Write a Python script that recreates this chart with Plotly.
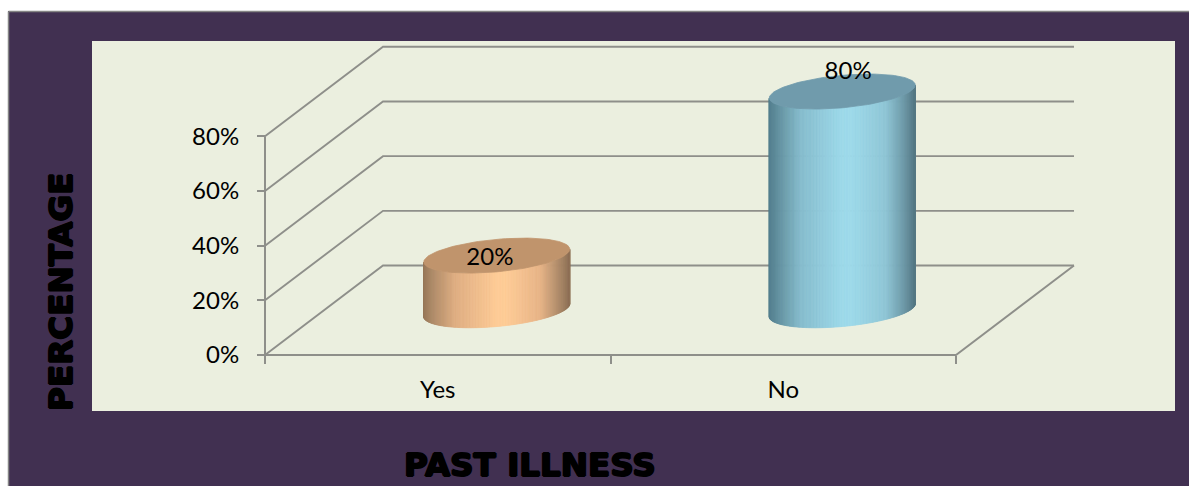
import numpy as np
import plotly.graph_objects as go

# ---- data ----
categories = ["Yes", "No"]
values = [20, 80]
value_labels = ["20%", "80%"]
tick_values = [0, 20, 40, 60, 80]
tick_labels = ["0%", "20%", "40%", "60%", "80%"]
x_title = "PAST ILLNESS"
y_title = "PERCENTAGE"

# ---- page / panel geometry (pixels) ----
W, H = 1189, 486
PL, PR, PT, PB = 92, 1175, 41, 411      # light panel
AX_X0, AX_X1 = 265, 956                 # category axis extent
AX_Y0, AX_Y80 = 355, 136.3              # value axis extent
px_per_cat = (AX_X1 - AX_X0) / len(categories)
px_per_val = (AX_Y0 - AX_Y80) / 80

x_range = [(PL - AX_X0) / px_per_cat, (PR - AX_X0) / px_per_cat]
y_range = [(AX_Y0 - PB) / px_per_val, (AX_Y0 - PT) / px_per_val]

# ---- oblique "3-D" depth, in axis units ----
DEPTH_X = 118 / px_per_cat
DEPTH_Y = 89.5 / px_per_val
R_X = 67.8 / px_per_cat
SKEW_X = 27 / px_per_cat
R_Y = 17.5 / px_per_val
PHI = np.arctan2(SKEW_X, R_X)

GRID = "#8E8F8A"
PANEL = "#EBEFDF"
PURPLE = "#413051"

side_stops = [
    [(0, "#977859"), (.06, "#AE8B69"), (.22, "#E0AE82"), (.5, "#FECB96"), (.58, "#FECB96"),
     (.8, "#E8B487"), (.93, "#AD8A69"), (1, "#8E7156")],
    [(0, "#55808F"), (.06, "#62909F"), (.22, "#86BDCE"), (.5, "#9DD9EA"), (.58, "#9DD9EA"),
     (.8, "#8FC6D6"), (.93, "#6C97A6"), (1, "#557884")],
]
top_colors = ["#C0946C", "#709BAC"]
label_dx = [-0.02, 0.017]     # small label nudges, category units
label_dy = [-1.1, 6.9]        # value units


def hex_rgb(c):
    return np.array([int(c[k:k + 2], 16) for k in (1, 3, 5)], float)


def ramp(stops, u):
    for (a, ca), (b, cb) in zip(stops, stops[1:]):
        if u <= b:
            f = (u - a) / (b - a)
            r = hex_rgb(ca) * (1 - f) + hex_rgb(cb) * f
            return "rgb(%d,%d,%d)" % tuple(r)
    return stops[-1][1]


def disc(cx, level, t):
    return (cx + R_X * np.cos(t) + SKEW_X * np.sin(t),
            level + DEPTH_Y / 2 + R_Y * np.sin(t))


fig = go.Figure()


def line(xs, ys, width=1.9):
    fig.add_trace(go.Scatter(x=xs, y=ys, mode="lines", showlegend=False, hoverinfo="skip",
                             line=dict(color=GRID, width=width)))


n_cat = len(categories)
# wall and floor gridlines
for v in tick_values:
    line([0, DEPTH_X, n_cat + DEPTH_X], [v, v + DEPTH_Y, v + DEPTH_Y])
line([0, n_cat, n_cat + DEPTH_X], [0, 0, DEPTH_Y])
line([0, 0], [tick_values[0], tick_values[-1]], 2)

# cylinders
for i, v in enumerate(values):
    cx = i + 0.5 + DEPTH_X / 2
    ts = np.linspace(PHI - np.pi, PHI, 145)
    for k in range(len(ts) - 1):
        seg = ts[k:k + 2]
        xb, yb = disc(cx, 0, seg)
        xt, yt = disc(cx, v, seg)
        mid = disc(cx, 0, seg.mean())[0]
        u = (mid - (cx - np.hypot(R_X, SKEW_X))) / (2 * np.hypot(R_X, SKEW_X))
        col = ramp(side_stops[i], u)
        fig.add_trace(go.Scatter(
            x=list(xb) + list(xt[::-1]) + [xb[0]], y=list(yb) + list(yt[::-1]) + [yb[0]],
            mode="lines", fill="toself", fillcolor=col, line=dict(color=col, width=0.8),
            showlegend=False, hoverinfo="skip"))
    t = np.linspace(0, 2 * np.pi, 121)
    xt, yt = disc(cx, v, t)
    fig.add_trace(go.Scatter(x=xt, y=yt, mode="lines", fill="toself", fillcolor=top_colors[i],
                             line=dict(color=top_colors[i], width=0.8),
                             showlegend=False, hoverinfo="skip"))

# value labels
fig.add_trace(go.Scatter(
    x=[i + 0.5 + DEPTH_X / 2 + label_dx[i] for i in range(n_cat)],
    y=[v + DEPTH_Y / 2 + label_dy[i] for i, v in enumerate(values)],
    mode="text", text=value_labels, textposition="middle center",
    textfont=dict(family="Lato", size=24, color="#000000"),
    showlegend=False, hoverinfo="skip"))

heavy = dict(family="DejaVu Sans", size=32.6, color="#000000", weight=700,
             shadow="1px 0 0 #000, -1px 0 0 #000, 0 1px 0 #000, 0 -1px 0 #000")

fig.update_layout(
    width=W, height=H, autosize=False,
    margin=dict(l=PL, r=W - PR, t=PT, b=H - PB, pad=0),
    paper_bgcolor=PURPLE, plot_bgcolor=PANEL, showlegend=False,
    xaxis=dict(
        range=x_range, anchor="free", position=(PB - AX_Y0) / (PB - PT),
        showgrid=False, zeroline=False, showline=False, fixedrange=True,
        tickmode="array", tickvals=[i + 0.5 for i in range(n_cat)], ticktext=categories,
        ticks="", ticklabelstandoff=18,
        tickfont=dict(family="Lato", size=24, color="#000000"),
        minor=dict(tickmode="array", tickvals=list(range(n_cat + 1)), ticks="outside",
                   ticklen=8, tickwidth=1.6, tickcolor=GRID, showgrid=False),
    ),
    yaxis=dict(
        range=y_range, anchor="free", position=(AX_X0 - PL) / (PR - PL),
        showgrid=False, zeroline=False, showline=False, fixedrange=True,
        tickmode="array", tickvals=tick_values, ticktext=tick_labels,
        ticks="outside", ticklen=8, tickwidth=2, tickcolor=GRID, ticklabelstandoff=13,
        tickfont=dict(family="Lato", size=24, color="#000000"),
    ),
    shapes=[
        dict(type="rect", xref="paper", yref="paper", layer="above", line_width=0, fillcolor="#FFFFFF",
             x0=-PL / (PR - PL), x1=(W - PL) / (PR - PL),
             y0=(PB - 11) / (PB - PT), y1=PB / (PB - PT)),
        dict(type="rect", xref="paper", yref="paper", layer="above", line_width=0, fillcolor="#FFFFFF",
             x0=-PL / (PR - PL), x1=(8 - PL) / (PR - PL),
             y0=(PB - H) / (PB - PT), y1=PB / (PB - PT)),
        dict(type="line", xref="paper", yref="paper", layer="above", line=dict(color="#858585", width=1.5),
             x0=(8.5 - PL) / (PR - PL), x1=(W - PL) / (PR - PL),
             y0=(PB - 11.5) / (PB - PT), y1=(PB - 11.5) / (PB - PT)),
        dict(type="line", xref="paper", yref="paper", layer="above", line=dict(color="#858585", width=1.5),
             x0=(8.5 - PL) / (PR - PL), x1=(8.5 - PL) / (PR - PL),
             y0=(PB - H) / (PB - PT), y1=(PB - 11.5) / (PB - PT)),
    ],
    annotations=[
        dict(text=x_title, xref="paper", yref="paper", showarrow=False, font=heavy,
             x=(530 - PL) / (PR - PL), y=(PB - 486) / (PB - PT), xanchor="center", yanchor="bottom"),
        dict(text=y_title, xref="paper", yref="paper", showarrow=False, font=heavy, textangle=-90,
             x=(61 - PL) / (PR - PL), y=(PB - 292) / (PB - PT), xanchor="center", yanchor="middle"),
    ],
)

fig.write_html("out.html", config=dict(displayModeBar=False),
               post_script="document.body.style.margin='0';document.body.style.overflow='hidden';")
